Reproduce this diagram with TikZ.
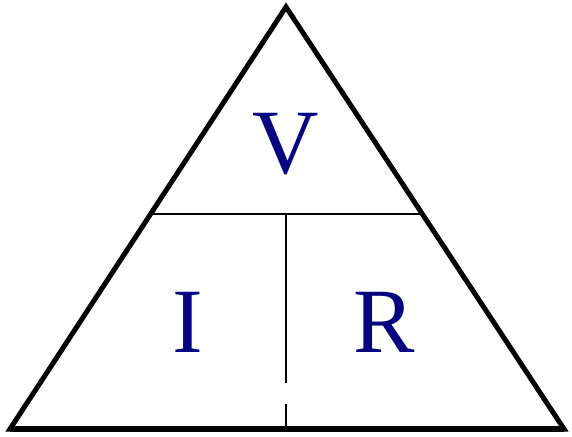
\documentclass[tikz,border=0pt]{standalone}
\usepackage{fontspec}
\setmainfont{Liberation Serif}
\definecolor{letterblue}{RGB}{5,5,130}
\begin{document}
\begin{tikzpicture}[x=1pt,y=-1pt,
  outer/.style={line width=5pt,line join=miter},
  base/.style={line width=6pt},
  inner/.style={line width=1.8pt},
  letter/.style={anchor=base,inner sep=0pt,text=letterblue,font=\fontsize{92}{92}\selectfont}]
\useasboundingbox (0,0) rectangle (572,436);
\coordinate (top) at (286,7);
\coordinate (bl) at (10,429);
\coordinate (br) at (564,429);
\draw[outer] (bl) -- (top) -- (br) -- cycle;
\draw[base] (bl) -- (br);
\coordinate (hl) at (149,214);
\coordinate (hr) at (421,214);
\draw[inner] (hl) -- (hr);
\coordinate (v1) at (286,214);
\coordinate (v2) at (286,383);
\coordinate (v3) at (286,404);
\coordinate (v4) at (286,429);
\draw[inner] (v1) -- (v2);
\draw[inner] (v3) -- (v4);
\node[letter] (V) at (286,173) {V};
\node[letter] (I) at (188,352) {I};
\node[letter] (R) at (384,352) {R};
\end{tikzpicture}
\end{document}
